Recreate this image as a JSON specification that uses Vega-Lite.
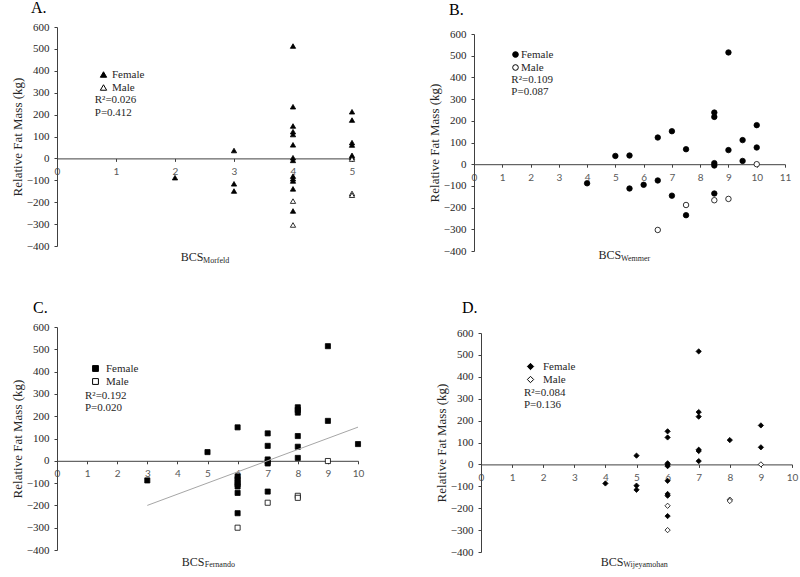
{
  "$schema": "https://vega.github.io/schema/vega-lite/v6.json",
  "padding": {"left": 11, "top": 0, "right": 5, "bottom": 5},
  "background": "white",
  "datasets": {
    "morfeld": [
      {"bcs": 2, "fatMass": -88, "sex": "Female"},
      {"bcs": 3, "fatMass": 36, "sex": "Female"},
      {"bcs": 3, "fatMass": -116, "sex": "Female"},
      {"bcs": 3, "fatMass": -149, "sex": "Female"},
      {"bcs": 4, "fatMass": 513, "sex": "Female"},
      {"bcs": 4, "fatMass": 236, "sex": "Female"},
      {"bcs": 4, "fatMass": 148, "sex": "Female"},
      {"bcs": 4, "fatMass": 122, "sex": "Female"},
      {"bcs": 4, "fatMass": 109, "sex": "Female"},
      {"bcs": 4, "fatMass": 62, "sex": "Female"},
      {"bcs": 4, "fatMass": 3, "sex": "Female"},
      {"bcs": 4, "fatMass": -9, "sex": "Female"},
      {"bcs": 4, "fatMass": -81, "sex": "Female"},
      {"bcs": 4, "fatMass": -93, "sex": "Female"},
      {"bcs": 4, "fatMass": -103, "sex": "Female"},
      {"bcs": 4, "fatMass": -139, "sex": "Female"},
      {"bcs": 4, "fatMass": -240, "sex": "Female"},
      {"bcs": 5, "fatMass": 213, "sex": "Female"},
      {"bcs": 5, "fatMass": 175, "sex": "Female"},
      {"bcs": 5, "fatMass": 72, "sex": "Female"},
      {"bcs": 5, "fatMass": 61, "sex": "Female"},
      {"bcs": 5, "fatMass": 14, "sex": "Female"},
      {"bcs": 5, "fatMass": 6, "sex": "Female"},
      {"bcs": 4, "fatMass": -195, "sex": "Male"},
      {"bcs": 4, "fatMass": -304, "sex": "Male"},
      {"bcs": 5, "fatMass": -3, "sex": "Male"},
      {"bcs": 5, "fatMass": -160, "sex": "Male"},
      {"bcs": 5, "fatMass": -168, "sex": "Male"}
    ],
    "wemmer": [
      {"bcs": 4, "fatMass": -88, "sex": "Female"},
      {"bcs": 5, "fatMass": 38, "sex": "Female"},
      {"bcs": 5.5, "fatMass": 40, "sex": "Female"},
      {"bcs": 5.5, "fatMass": -112, "sex": "Female"},
      {"bcs": 6, "fatMass": -95, "sex": "Female"},
      {"bcs": 6.5, "fatMass": 123, "sex": "Female"},
      {"bcs": 6.5, "fatMass": -75, "sex": "Female"},
      {"bcs": 7, "fatMass": 152, "sex": "Female"},
      {"bcs": 7, "fatMass": -145, "sex": "Female"},
      {"bcs": 7.5, "fatMass": 69, "sex": "Female"},
      {"bcs": 7.5, "fatMass": -235, "sex": "Female"},
      {"bcs": 8.5, "fatMass": 238, "sex": "Female"},
      {"bcs": 8.5, "fatMass": 218, "sex": "Female"},
      {"bcs": 8.5, "fatMass": 5, "sex": "Female"},
      {"bcs": 8.5, "fatMass": -6, "sex": "Female"},
      {"bcs": 8.5, "fatMass": -135, "sex": "Female"},
      {"bcs": 9, "fatMass": 515, "sex": "Female"},
      {"bcs": 9, "fatMass": 65, "sex": "Female"},
      {"bcs": 9.5, "fatMass": 111, "sex": "Female"},
      {"bcs": 9.5, "fatMass": 15, "sex": "Female"},
      {"bcs": 10, "fatMass": 180, "sex": "Female"},
      {"bcs": 10, "fatMass": 77, "sex": "Female"},
      {"bcs": 6.5, "fatMass": -303, "sex": "Male"},
      {"bcs": 7.5, "fatMass": -188, "sex": "Male"},
      {"bcs": 8.5, "fatMass": -166, "sex": "Male"},
      {"bcs": 9, "fatMass": -160, "sex": "Male"},
      {"bcs": 10, "fatMass": 0, "sex": "Male"}
    ],
    "fernando": [
      {"bcs": 3, "fatMass": -88, "sex": "Female"},
      {"bcs": 5, "fatMass": 39, "sex": "Female"},
      {"bcs": 6, "fatMass": 150, "sex": "Female"},
      {"bcs": 6, "fatMass": -70, "sex": "Female"},
      {"bcs": 6, "fatMass": -82, "sex": "Female"},
      {"bcs": 6, "fatMass": -95, "sex": "Female"},
      {"bcs": 6, "fatMass": -105, "sex": "Female"},
      {"bcs": 6, "fatMass": -115, "sex": "Female"},
      {"bcs": 6, "fatMass": -144, "sex": "Female"},
      {"bcs": 6, "fatMass": -235, "sex": "Female"},
      {"bcs": 7, "fatMass": 123, "sex": "Female"},
      {"bcs": 7, "fatMass": 67, "sex": "Female"},
      {"bcs": 7, "fatMass": 6, "sex": "Female"},
      {"bcs": 7, "fatMass": -4, "sex": "Female"},
      {"bcs": 7, "fatMass": -12, "sex": "Female"},
      {"bcs": 7, "fatMass": -138, "sex": "Female"},
      {"bcs": 8, "fatMass": 240, "sex": "Female"},
      {"bcs": 8, "fatMass": 228, "sex": "Female"},
      {"bcs": 8, "fatMass": 216, "sex": "Female"},
      {"bcs": 8, "fatMass": 111, "sex": "Female"},
      {"bcs": 8, "fatMass": 63, "sex": "Female"},
      {"bcs": 8, "fatMass": 13, "sex": "Female"},
      {"bcs": 9, "fatMass": 514, "sex": "Female"},
      {"bcs": 9, "fatMass": 179, "sex": "Female"},
      {"bcs": 10, "fatMass": 75, "sex": "Female"},
      {"bcs": 6, "fatMass": -300, "sex": "Male"},
      {"bcs": 7, "fatMass": -188, "sex": "Male"},
      {"bcs": 8, "fatMass": -157, "sex": "Male"},
      {"bcs": 8, "fatMass": -166, "sex": "Male"},
      {"bcs": 9, "fatMass": -1, "sex": "Male"}
    ],
    "wijeyamohan": [
      {"bcs": 4, "fatMass": -87, "sex": "Female"},
      {"bcs": 5, "fatMass": 40, "sex": "Female"},
      {"bcs": 5, "fatMass": -97, "sex": "Female"},
      {"bcs": 5, "fatMass": -116, "sex": "Female"},
      {"bcs": 6, "fatMass": 151, "sex": "Female"},
      {"bcs": 6, "fatMass": 123, "sex": "Female"},
      {"bcs": 6, "fatMass": 5, "sex": "Female"},
      {"bcs": 6, "fatMass": -2, "sex": "Female"},
      {"bcs": 6, "fatMass": -8, "sex": "Female"},
      {"bcs": 6, "fatMass": -75, "sex": "Female"},
      {"bcs": 6, "fatMass": -135, "sex": "Female"},
      {"bcs": 6, "fatMass": -143, "sex": "Female"},
      {"bcs": 6, "fatMass": -236, "sex": "Female"},
      {"bcs": 7, "fatMass": 516, "sex": "Female"},
      {"bcs": 7, "fatMass": 239, "sex": "Female"},
      {"bcs": 7, "fatMass": 218, "sex": "Female"},
      {"bcs": 7, "fatMass": 67, "sex": "Female"},
      {"bcs": 7, "fatMass": 61, "sex": "Female"},
      {"bcs": 7, "fatMass": 15, "sex": "Female"},
      {"bcs": 8, "fatMass": 111, "sex": "Female"},
      {"bcs": 9, "fatMass": 178, "sex": "Female"},
      {"bcs": 9, "fatMass": 78, "sex": "Female"},
      {"bcs": 6, "fatMass": -189, "sex": "Male"},
      {"bcs": 6, "fatMass": -300, "sex": "Male"},
      {"bcs": 8, "fatMass": -161, "sex": "Male"},
      {"bcs": 8, "fatMass": -167, "sex": "Male"},
      {"bcs": 9, "fatMass": 0, "sex": "Male"}
    ]
  },
  "columns": 2,
  "bounds": "flush",
  "spacing": {"row": 76, "column": 116},
  "resolve": {
    "scale": {"x": "independent", "y": "independent", "fill": "independent", "shape": "independent", "stroke": "independent"},
    "legend": {"fill": "independent", "shape": "independent", "stroke": "independent"}
  },
  "concat": [
    {
      "width": 295,
      "height": 219,
      "title": {"text": "A.", "dx": -26, "offset": 5},
      "layer": [
        {
          "data": {"name": "morfeld"},
          "mark": {"type": "point", "filled": true, "strokeWidth": 0.8, "opacity": 1, "size": 28},
          "encoding": {
            "x": {"field": "bcs", "type": "quantitative", "scale": {"domain": [0, 5], "nice": false, "zero": false},
              "axis": {"offset": -87.6, "values": [0, 1, 2, 3, 4, 5], "tickCount": 20, "format": "d", "title": "BCS", "titleX": 146, "titleY": 101.6}},
            "y": {"field": "fatMass", "type": "quantitative", "scale": {"domain": [-400, 600], "nice": false},
              "axis": {"title": "Relative Fat Mass (kg)", "values": [-400, -300, -200, -100, 0, 100, 200, 300, 400, 500, 600], "tickCount": 20, "format": "d"}},
            "fill": {"field": "sex", "type": "nominal", "scale": {"domain": ["Female", "Male"], "range": ["black", "white"]},
              "legend": {"title": null, "orient": "none", "legendX": 41, "legendY": 42, "labelOffset": 3, "symbolSize": 40, "symbolStrokeWidth": 1}},
            "stroke": {"field": "sex", "type": "nominal", "scale": {"domain": ["Female", "Male"], "range": ["black", "black"]},
              "legend": {"title": null, "orient": "none", "legendX": 41, "legendY": 42, "labelOffset": 3, "symbolSize": 40, "symbolStrokeWidth": 1}},
            "shape": {"field": "sex", "type": "nominal", "scale": {"domain": ["Female", "Male"], "range": ["triangle-up", "triangle-up"]},
              "legend": {"title": null, "orient": "none", "legendX": 41, "legendY": 42, "labelOffset": 3, "symbolSize": 40, "symbolStrokeWidth": 1}}
          }
        },
        {
          "data": {"values": [{"r2": "R²=0.026", "p": "P=0.412", "sub": "Morfeld"}]},
          "mark": {"type": "text", "align": "left", "baseline": "middle", "font": "Liberation Serif", "fontSize": 11, "color": "#262626"},
          "encoding": {"x": {"datum": 0.64}, "y": {"datum": 268}, "text": {"field": "r2"}}
        },
        {
          "data": {"values": [{"r2": "R²=0.026", "p": "P=0.412", "sub": "Morfeld"}]},
          "mark": {"type": "text", "align": "left", "baseline": "middle", "font": "Liberation Serif", "fontSize": 11, "color": "#262626"},
          "encoding": {"x": {"datum": 0.64}, "y": {"datum": 208}, "text": {"field": "p"}}
        },
        {
          "data": {"values": [{"r2": "R²=0.026", "p": "P=0.412", "sub": "Morfeld"}]},
          "mark": {"type": "text", "align": "left", "baseline": "alphabetic", "font": "Liberation Serif", "fontSize": 8, "color": "#262626"},
          "encoding": {"x": {"datum": 2.475}, "y": {"datum": -477}, "text": {"field": "sub"}}
        }
      ]
    },
    {
      "width": 311,
      "height": 224,
      "title": {"text": "B.", "dx": -25, "offset": 9},
      "layer": [
        {
          "data": {"name": "wemmer"},
          "mark": {"type": "point", "filled": true, "strokeWidth": 0.8, "opacity": 1, "size": 30},
          "encoding": {
            "x": {"field": "bcs", "type": "quantitative", "scale": {"domain": [0, 11], "nice": false, "zero": false},
              "axis": {"offset": -86.8, "values": [0, 1, 2, 3, 4, 5, 6, 7, 8, 9, 10, 11], "tickCount": 20, "format": "d", "title": "BCS", "titleX": 146.7, "titleY": 94.1}},
            "y": {"field": "fatMass", "type": "quantitative", "scale": {"domain": [-400, 600], "nice": false, "range": [224, 7]},
              "axis": {"title": "Relative Fat Mass (kg)", "values": [-400, -300, -200, -100, 0, 100, 200, 300, 400, 500, 600], "tickCount": 20, "format": "d"}},
            "fill": {"field": "sex", "type": "nominal", "scale": {"domain": ["Female", "Male"], "range": ["black", "white"]},
              "legend": {"title": null, "orient": "none", "legendX": 36, "legendY": 22, "labelOffset": 0, "symbolSize": 32, "symbolStrokeWidth": 1}},
            "stroke": {"field": "sex", "type": "nominal", "scale": {"domain": ["Female", "Male"], "range": ["black", "black"]},
              "legend": {"title": null, "orient": "none", "legendX": 36, "legendY": 22, "labelOffset": 0, "symbolSize": 32, "symbolStrokeWidth": 1}},
            "shape": {"field": "sex", "type": "nominal", "scale": {"domain": ["Female", "Male"], "range": ["circle", "circle"]},
              "legend": {"title": null, "orient": "none", "legendX": 36, "legendY": 22, "labelOffset": 0, "symbolSize": 32, "symbolStrokeWidth": 1}}
          }
        },
        {
          "data": {"values": [{"r2": "R²=0.109", "p": "P=0.087", "sub": "Wemmer"}]},
          "mark": {"type": "text", "align": "left", "baseline": "middle", "font": "Liberation Serif", "fontSize": 11, "color": "#262626"},
          "encoding": {"x": {"datum": 1.32}, "y": {"datum": 387}, "text": {"field": "r2"}}
        },
        {
          "data": {"values": [{"r2": "R²=0.109", "p": "P=0.087", "sub": "Wemmer"}]},
          "mark": {"type": "text", "align": "left", "baseline": "middle", "font": "Liberation Serif", "fontSize": 11, "color": "#262626"},
          "encoding": {"x": {"datum": 1.32}, "y": {"datum": 333}, "text": {"field": "p"}}
        },
        {
          "data": {"values": [{"r2": "R²=0.109", "p": "P=0.087", "sub": "Wemmer"}]},
          "mark": {"type": "text", "align": "left", "baseline": "alphabetic", "font": "Liberation Serif", "fontSize": 8, "color": "#262626"},
          "encoding": {"x": {"datum": 5.2}, "y": {"datum": -445}, "text": {"field": "sub"}}
        }
      ]
    },
    {
      "width": 301,
      "height": 223,
      "title": {"text": "C.", "dx": -24, "offset": 5},
      "layer": [
        {
          "data": {"name": "fernando"},
          "mark": {"type": "point", "filled": true, "strokeWidth": 0.8, "opacity": 1, "size": 26},
          "encoding": {
            "x": {"field": "bcs", "type": "quantitative", "scale": {"domain": [0, 10], "nice": false, "zero": false},
              "axis": {"offset": -89.2, "values": [0, 1, 2, 3, 4, 5, 6, 7, 8, 9, 10], "tickCount": 20, "format": "d", "title": "BCS", "titleX": 147, "titleY": 104.2}},
            "y": {"field": "fatMass", "type": "quantitative", "scale": {"domain": [-400, 600], "nice": false},
              "axis": {"title": "Relative Fat Mass (kg)", "values": [-400, -300, -200, -100, 0, 100, 200, 300, 400, 500, 600], "tickCount": 20, "format": "d"}},
            "fill": {"field": "sex", "type": "nominal", "scale": {"domain": ["Female", "Male"], "range": ["black", "white"]},
              "legend": {"title": null, "orient": "none", "legendX": 33, "legendY": 36, "labelOffset": 5, "symbolSize": 34, "symbolStrokeWidth": 1}},
            "stroke": {"field": "sex", "type": "nominal", "scale": {"domain": ["Female", "Male"], "range": ["black", "black"]},
              "legend": {"title": null, "orient": "none", "legendX": 33, "legendY": 36, "labelOffset": 5, "symbolSize": 34, "symbolStrokeWidth": 1}},
            "shape": {"field": "sex", "type": "nominal", "scale": {"domain": ["Female", "Male"], "range": ["square", "square"]},
              "legend": {"title": null, "orient": "none", "legendX": 33, "legendY": 36, "labelOffset": 5, "symbolSize": 34, "symbolStrokeWidth": 1}}
          }
        },
        {
          "data": {"values": [{"r2": "R²=0.192", "p": "P=0.020", "sub": "Fernando"}]},
          "mark": {"type": "rule", "color": "#a6a6a6", "strokeWidth": 1},
          "encoding": {"x": {"datum": 3}, "y": {"datum": -200}, "x2": {"datum": 10}, "y2": {"datum": 151}}
        },
        {
          "data": {"values": [{"r2": "R²=0.192", "p": "P=0.020", "sub": "Fernando"}]},
          "mark": {"type": "text", "align": "left", "baseline": "middle", "font": "Liberation Serif", "fontSize": 11, "color": "#262626"},
          "encoding": {"x": {"datum": 0.93}, "y": {"datum": 292}, "text": {"field": "r2"}}
        },
        {
          "data": {"values": [{"r2": "R²=0.192", "p": "P=0.020", "sub": "Fernando"}]},
          "mark": {"type": "text", "align": "left", "baseline": "middle", "font": "Liberation Serif", "fontSize": 11, "color": "#262626"},
          "encoding": {"x": {"datum": 0.93}, "y": {"datum": 236}, "text": {"field": "p"}}
        },
        {
          "data": {"values": [{"r2": "R²=0.192", "p": "P=0.020", "sub": "Fernando"}]},
          "mark": {"type": "text", "align": "left", "baseline": "alphabetic", "font": "Liberation Serif", "fontSize": 8, "color": "#262626"},
          "encoding": {"x": {"datum": 4.907}, "y": {"datum": -476}, "text": {"field": "sub"}}
        }
      ]
    },
    {
      "width": 318,
      "height": 225,
      "title": {"text": "D.", "dx": -12, "offset": 11},
      "layer": [
        {
          "data": {"name": "wijeyamohan"},
          "mark": {"type": "point", "filled": true, "strokeWidth": 0.8, "opacity": 1, "size": 28},
          "encoding": {
            "x": {"field": "bcs", "type": "quantitative", "scale": {"domain": [0, 10], "nice": false, "zero": false, "range": [7, 318]},
              "axis": {"offset": -87.6, "values": [0, 1, 2, 3, 4, 5, 6, 7, 8, 9, 10], "tickCount": 20, "format": "d", "title": "BCS", "titleX": 149, "titleY": 100.6}},
            "y": {"field": "fatMass", "type": "quantitative", "scale": {"domain": [-400, 600], "nice": false, "range": [225, 6]},
              "axis": {"offset": -7, "title": "Relative Fat Mass (kg)", "values": [-400, -300, -200, -100, 0, 100, 200, 300, 400, 500, 600], "tickCount": 20, "format": "d"}},
            "fill": {"field": "sex", "type": "nominal", "scale": {"domain": ["Female", "Male"], "range": ["black", "white"]},
              "legend": {"title": null, "orient": "none", "legendX": 51, "legendY": 34, "labelOffset": 7, "symbolSize": 40, "symbolStrokeWidth": 1}},
            "stroke": {"field": "sex", "type": "nominal", "scale": {"domain": ["Female", "Male"], "range": ["black", "black"]},
              "legend": {"title": null, "orient": "none", "legendX": 51, "legendY": 34, "labelOffset": 7, "symbolSize": 40, "symbolStrokeWidth": 1}},
            "shape": {"field": "sex", "type": "nominal", "scale": {"domain": ["Female", "Male"], "range": ["diamond", "diamond"]},
              "legend": {"title": null, "orient": "none", "legendX": 51, "legendY": 34, "labelOffset": 7, "symbolSize": 40, "symbolStrokeWidth": 1}}
          }
        },
        {
          "data": {"values": [{"r2": "R²=0.084", "p": "P=0.136", "sub": "Wijeyamohan"}]},
          "mark": {"type": "text", "align": "left", "baseline": "middle", "font": "Liberation Serif", "fontSize": 11, "color": "#262626"},
          "encoding": {"x": {"datum": 1.38}, "y": {"datum": 328}, "text": {"field": "r2"}}
        },
        {
          "data": {"values": [{"r2": "R²=0.084", "p": "P=0.136", "sub": "Wijeyamohan"}]},
          "mark": {"type": "text", "align": "left", "baseline": "middle", "font": "Liberation Serif", "fontSize": 11, "color": "#262626"},
          "encoding": {"x": {"datum": 1.38}, "y": {"datum": 271}, "text": {"field": "p"}}
        },
        {
          "data": {"values": [{"r2": "R²=0.084", "p": "P=0.136", "sub": "Wijeyamohan"}]},
          "mark": {"type": "text", "align": "left", "baseline": "alphabetic", "font": "Liberation Serif", "fontSize": 8, "color": "#262626"},
          "encoding": {"x": {"datum": 4.576}, "y": {"datum": -470}, "text": {"field": "sub"}}
        }
      ]
    }
  ],
  "config": {
    "view": {"stroke": null},
    "title": {"font": "Liberation Serif", "fontSize": 16, "fontWeight": "normal", "anchor": "start", "frame": "group", "color": "black"},
    "axis": {"grid": false, "domainColor": "#404040", "tickColor": "#404040", "tickSize": 3, "labelPadding": 5},
    "axisX": {"labelFont": "Lato", "labelFontSize": 10, "labelColor": "#595959", "labelFlush": false, "labelOverlap": false,
      "titleFont": "Liberation Serif", "titleFontSize": 12, "titleFontWeight": "normal", "titleColor": "#262626", "titleAlign": "right", "titleBaseline": "alphabetic"},
    "axisY": {"labelFont": "Liberation Serif", "labelFontSize": 11, "labelColor": "#262626",
      "titleFont": "Liberation Serif", "titleFontSize": 13, "titleFontWeight": "normal", "titleColor": "#262626", "titlePadding": 2, "labelOverlap": false},
    "legend": {"labelFont": "Liberation Serif", "labelFontSize": 11, "labelColor": "#262626", "padding": 0, "rowPadding": 1}
  }
}
